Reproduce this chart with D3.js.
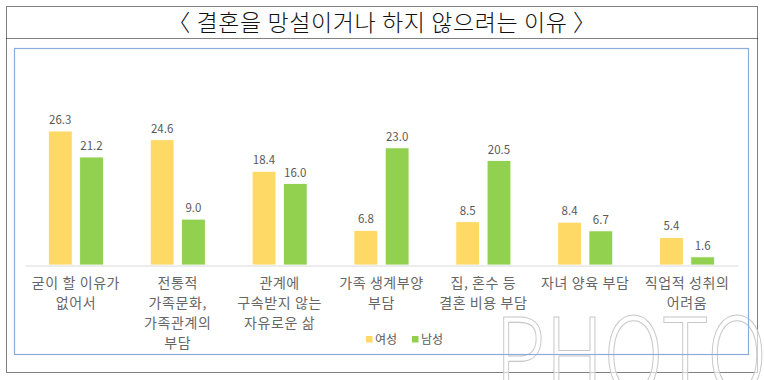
<!DOCTYPE html>
<html><head><meta charset="utf-8">
<script src="https://cdn.jsdelivr.net/npm/d3@7"></script>
<style>
html,body{margin:0;padding:0;background:#fff;}
svg{display:block;}
text{font-family:"Noto Sans CJK KR","Noto Sans",sans-serif;}
</style></head>
<body>
<svg id="c" width="764" height="380"></svg>
<script>
const titleText = "〈 결혼을 망설이거나 하지 않으려는 이유 〉";
const categories = [
  ["굳이 할 이유가", "없어서"],
  ["전통적", "가족문화,", "가족관계의", "부담"],
  ["관계에", "구속받지 않는", "자유로운 삶"],
  ["가족 생계부양", "부담"],
  ["집, 혼수 등", "결혼 비용 부담"],
  ["자녀 양육 부담"],
  ["직업적 성취의", "어려움"]
];
const seriesNames = ["여성", "남성"];
const women = [26.3, 24.6, 18.4, 6.8, 8.5, 8.4, 5.4];
const men = [21.2, 9.0, 16.0, 23.0, 20.5, 6.7, 1.6];
const colors = ["#FFD966", "#92D050"];

const svg = d3.select("#c");

// outer dotted frame
svg.append("rect").attr("x",6.5).attr("y",6.5).attr("width",751).attr("height",366)
  .attr("fill","none").attr("stroke","#000").attr("stroke-width",1).attr("stroke-dasharray","1,1");
svg.append("line").attr("x1",6.5).attr("x2",757.5).attr("y1",38.5).attr("y2",38.5)
  .attr("stroke","#000").attr("stroke-dasharray","1,1");
svg.append("text").attr("x",382).attr("y",31).attr("text-anchor","middle")
  .attr("font-size",23).attr("fill","#111").attr("font-weight",300)
  .attr("letter-spacing",0.6).text(titleText);

// watermark
svg.append("text").attr("x",495).attr("y",394).attr("font-size",106)
  .attr("font-family","'DejaVu Sans',sans-serif").attr("font-weight",200)
  .attr("fill","#fff").attr("fill-opacity",0.6).attr("stroke","#c8c8c8").attr("stroke-width",1.2)
  .attr("textLength",272).attr("lengthAdjust","spacingAndGlyphs")
  .text("PHOTO");

// inner blue frame
svg.append("rect").attr("x",14.5).attr("y",48.5).attr("width",734).attr("height",306)
  .attr("fill","none").attr("stroke","#8EA9DB").attr("stroke-width",1.2);

const x0 = d3.scaleBand().domain(d3.range(categories.length)).range([25,738]).paddingInner(0).paddingOuter(0);
const x1 = d3.scaleBand().domain([0,1]).range([0, 55]).paddingInner(0.24);
const y = d3.scaleLinear().domain([0,30]).range([265,112.2]);

const data = [women, men];
const g = svg.append("g");
data.forEach((vals, si) => {
  const gs = g.append("g");
  vals.forEach((v, i) => {
    const cx = x0(i) + x0.bandwidth()/2 - 27.5;
    const bx = cx + x1(si);
    gs.append("rect").attr("x",bx).attr("y",y(v)).attr("width",x1.bandwidth())
      .attr("height",y(0)-y(v)).attr("fill",colors[si]).attr("stroke","#fff").attr("stroke-width",0.8);
    gs.append("text").attr("x",bx + x1.bandwidth()/2).attr("y",y(v)-7)
      .attr("text-anchor","middle").attr("font-size",11.5).attr("fill","#595959")
      .text(v.toFixed(1));
  });
});

// baseline axis
const axis = d3.axisBottom(x0).tickSize(0).tickFormat("");
const ag = svg.append("g").attr("transform","translate(0,265.5)").call(axis);
ag.select(".domain").attr("stroke","#d9d9d9").attr("stroke-width",1.2);

categories.forEach((lines, i) => {
  const t = svg.append("text").attr("text-anchor","middle").attr("font-size",14).attr("fill","#666")
    .attr("letter-spacing",0.6);
  lines.forEach((ln, j) => {
    t.append("tspan").attr("x", x0(i)+x0.bandwidth()/2).attr("y", 288 + j*20).text(ln);
  });
});

// legend
const lg = svg.append("g");
const legendItems = [{x:366},{x:412}];
seriesNames.forEach((n, i) => {
  lg.append("rect").attr("x",legendItems[i].x).attr("y",336).attr("width",6.5).attr("height",6.5).attr("fill",colors[i]);
  lg.append("text").attr("x",legendItems[i].x+9).attr("y",344).attr("font-size",12).attr("fill","#595959").text(n);
});
</script>
</body></html>
